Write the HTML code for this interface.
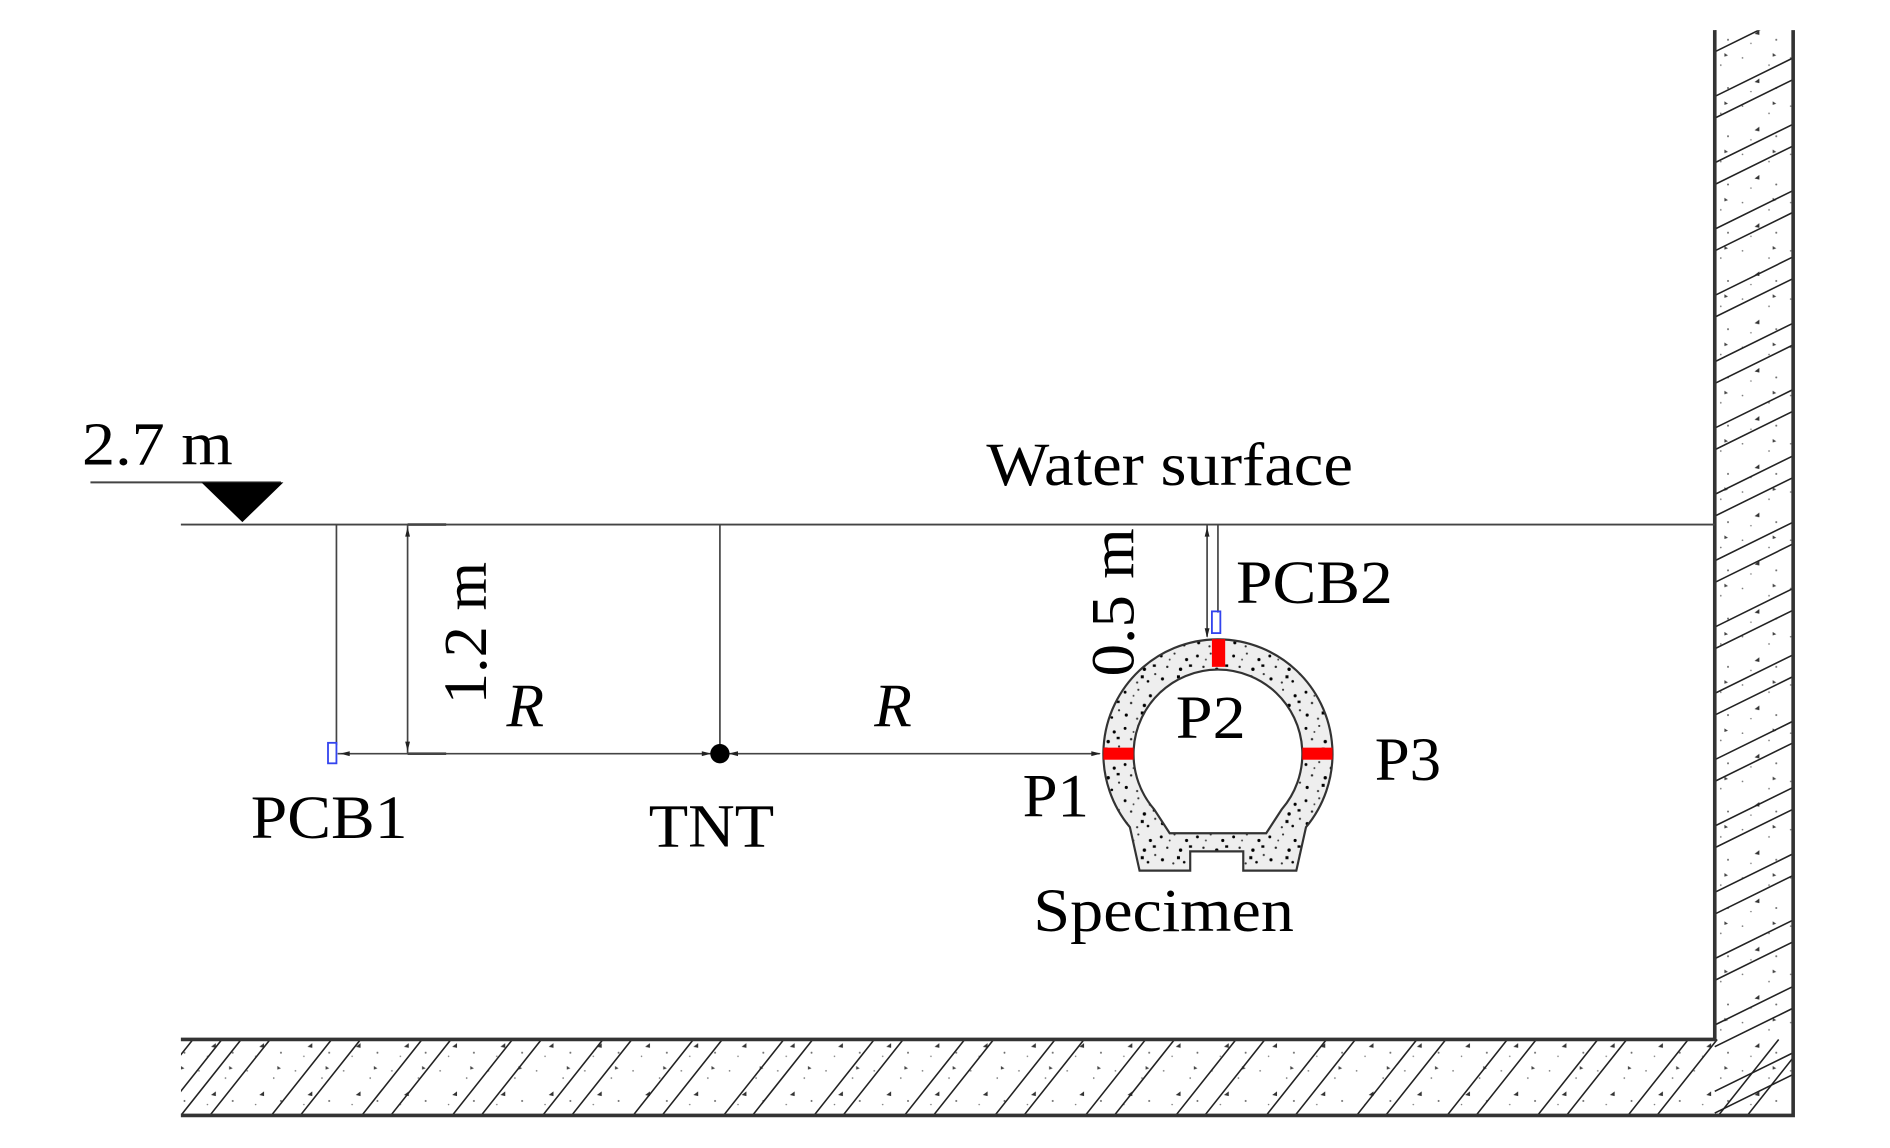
<!DOCTYPE html>
<html><head><meta charset="utf-8"><style>
html,body{margin:0;padding:0;background:#fff;}
svg{display:block;}
text{font-family:"Liberation Serif",serif;font-size:51px;fill:#000;}
</style></head><body>
<svg width="1890" height="1148" viewBox="0 0 1567 952" preserveAspectRatio="xMinYMin meet" xmlns="http://www.w3.org/2000/svg">
<defs>
<pattern id="stip" width="30" height="30" patternUnits="userSpaceOnUse">
<rect width="30" height="30" fill="#eeeeee"/>
<circle cx="3" cy="4" r="1.2" fill="#000"/><circle cx="14" cy="2" r="0.9" fill="#333"/>
<circle cx="24" cy="7" r="1.3" fill="#000"/><circle cx="8" cy="13" r="1" fill="#222"/>
<circle cx="19" cy="15" r="1.4" fill="#000"/><circle cx="28" cy="19" r="0.9" fill="#333"/>
<circle cx="4" cy="23" r="1.3" fill="#000"/><circle cx="13" cy="26" r="0.9" fill="#333"/>
<circle cx="22" cy="25" r="1.1" fill="#000"/><circle cx="10" cy="7" r="0.8" fill="#444"/>
<rect x="16" y="20" width="2.5" height="2.5" fill="#000"/><rect x="26" y="11" width="2.5" height="2" fill="#000"/>
</pattern>
<pattern id="dots" width="40" height="40" patternUnits="userSpaceOnUse">
<circle cx="5" cy="8" r="0.7" fill="#777"/><circle cx="27" cy="14" r="0.7" fill="#777"/>
<path d="M15 28 l4 -3 l0 4z" fill="#333"/><circle cx="33" cy="33" r="0.8" fill="#666"/>
<circle cx="12" cy="36" r="0.6" fill="#777"/><path d="M30 4 l3 2 l-3 1z" fill="#444"/>
</pattern>
<clipPath id="wallclip"><path d="M1422 25 H1487 V925 H150 V862 H1422 Z"/></clipPath>
</defs>

<path d="M1422 25 H1487 V925 H150 V862 H1422 Z" fill="url(#dots)"/>
<g clip-path="url(#wallclip)" stroke="#222" stroke-width="1.3">
<g id="wh">
<line x1="1422" y1="80" x2="1487" y2="48"/><line x1="1422" y1="98" x2="1487" y2="66"/>
</g>
<use href="#wh" y="55"/><use href="#wh" y="110"/><use href="#wh" y="165"/><use href="#wh" y="220"/>
<use href="#wh" y="275"/><use href="#wh" y="330"/><use href="#wh" y="385"/><use href="#wh" y="440"/>
<use href="#wh" y="495"/><use href="#wh" y="550"/><use href="#wh" y="605"/><use href="#wh" y="660"/>
<use href="#wh" y="715"/><use href="#wh" y="770"/><use href="#wh" y="825"/><use href="#wh" y="880"/>
<use href="#wh" y="-55"/>
<g id="fh">
<line x1="150" y1="925" x2="200" y2="862"/><line x1="174" y1="925" x2="224" y2="862"/>
</g>
<use href="#fh" x="75"/><use href="#fh" x="150"/><use href="#fh" x="225"/><use href="#fh" x="300"/>
<use href="#fh" x="375"/><use href="#fh" x="450"/><use href="#fh" x="525"/><use href="#fh" x="600"/>
<use href="#fh" x="675"/><use href="#fh" x="750"/><use href="#fh" x="825"/><use href="#fh" x="900"/>
<use href="#fh" x="975"/><use href="#fh" x="1050"/><use href="#fh" x="1125"/><use href="#fh" x="1200"/>
<use href="#fh" x="1275"/><use href="#fh" x="-40"/>
</g>
<g stroke="#333" stroke-width="3" fill="none">
<path d="M1422 25 V862 H150"/>
<path d="M1487 25 V925 H150"/>
</g>

<g stroke="#444" stroke-width="1.6" fill="none">
<line x1="150" y1="435" x2="1422" y2="435"/>
<line x1="75" y1="400" x2="233" y2="400"/>
</g>
<path d="M167 400 H235 L201 433 Z" fill="#000"/>
<text x="68" y="385" textLength="125" lengthAdjust="spacingAndGlyphs">2.7 m</text>
<text x="818" y="402" textLength="304" lengthAdjust="spacingAndGlyphs">Water surface</text>

<g stroke="#444" stroke-width="1.4">
<line x1="279" y1="435" x2="279" y2="618"/>
<line x1="338" y1="435" x2="338" y2="625"/>
<line x1="597" y1="435" x2="597" y2="625"/>
<line x1="280" y1="625" x2="912" y2="625"/>
<line x1="338" y1="435" x2="370" y2="435" stroke-width="2.2"/>
<line x1="338" y1="625" x2="370" y2="625" stroke-width="2.2"/>
<line x1="1001" y1="435" x2="1001" y2="528"/>
<line x1="1010" y1="435" x2="1010" y2="508"/>
</g>
<g fill="#222">
<path d="M338 437 l-2 8 h4z"/><path d="M338 623 l-2 -8 h4z"/>
<path d="M282 625 l8 -2 v4z"/><path d="M590 625 l-8 -2 v4z"/><path d="M604 625 l8 -2 v4z"/>
<path d="M913 625 l-8 -2 v4z"/>
<path d="M1001 437 l-2 8 h4z"/><path d="M1001 529 l-2 -8 h4z"/>
</g>
<circle cx="597" cy="625" r="8" fill="#000"/>
<rect x="272" y="616" width="7" height="17" fill="none" stroke="#3344ee" stroke-width="1.5"/>
<rect x="1005" y="507" width="7" height="18" fill="none" stroke="#3344ee" stroke-width="1.5"/>

<text transform="translate(403,584) rotate(-90)" textLength="118" lengthAdjust="spacingAndGlyphs">1.2 m</text>
<text transform="translate(940,561) rotate(-90)" textLength="123" lengthAdjust="spacingAndGlyphs">0.5 m</text>
<text x="420" y="602" font-style="italic">R</text>
<text x="725" y="602" font-style="italic">R</text>
<text x="208" y="695" textLength="130" lengthAdjust="spacingAndGlyphs">PCB1</text>
<text x="538" y="702" textLength="104" lengthAdjust="spacingAndGlyphs">TNT</text>

<path fill-rule="evenodd" fill="url(#stip)" stroke="#333" stroke-width="1.8"
d="M937 686 A95 95 0 1 1 1083 686 L1075 722 H1031 V706 H987 V722 H945 Z
M957 671 A70 70 0 1 1 1063 671 L1050 691 H970 Z"/>
<rect x="915" y="620" width="25" height="10" fill="#f00"/>
<rect x="1080" y="620" width="25" height="10" fill="#f00"/>
<rect x="1005" y="530" width="11" height="23" fill="#f00"/>
<text x="1025" y="500" textLength="130" lengthAdjust="spacingAndGlyphs">PCB2</text>
<text x="975" y="612" textLength="58" lengthAdjust="spacingAndGlyphs">P2</text>
<text x="1140" y="647" textLength="55" lengthAdjust="spacingAndGlyphs">P3</text>
<text x="848" y="677" textLength="55" lengthAdjust="spacingAndGlyphs">P1</text>
<text x="857" y="772" textLength="216" lengthAdjust="spacingAndGlyphs">Specimen</text>
</svg>
</body></html>
